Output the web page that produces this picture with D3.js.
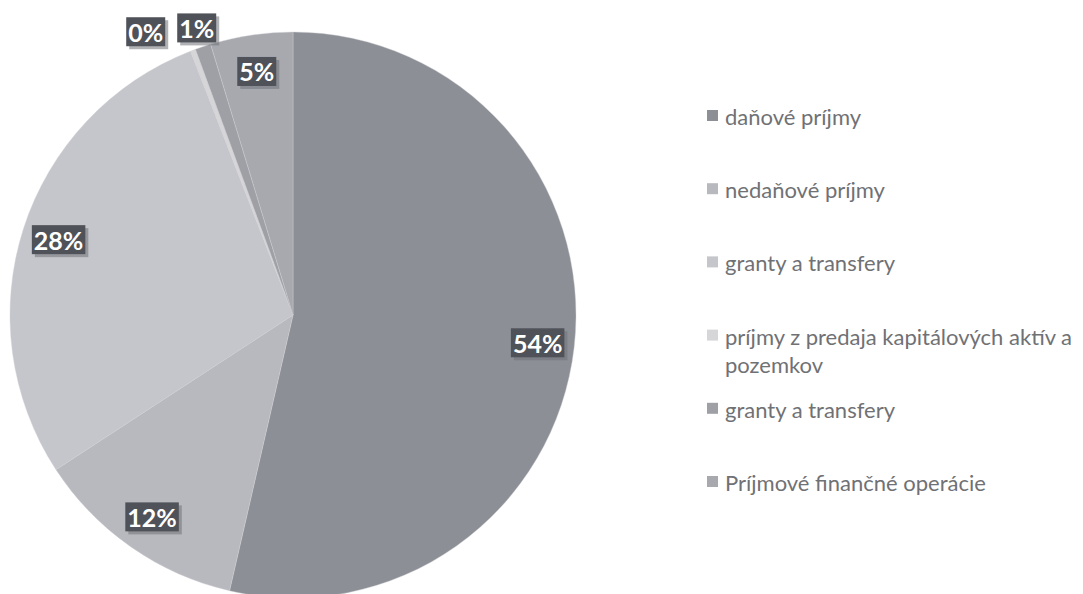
<!DOCTYPE html>
<html>
<head>
<meta charset="utf-8">
<script src="https://cdn.jsdelivr.net/npm/d3@7"></script>
<style>
  html, body { margin: 0; padding: 0; background: #ffffff; }
  svg { display: block; }
</style>
</head>
<body>
<svg id="chart" width="1083" height="594"></svg>
<script>
// ---- data ----
const categories = [
  "daňové príjmy",
  "nedaňové príjmy",
  "granty a transfery",
  "príjmy z predaja kapitálových aktív a pozemkov",
  "granty a transfery",
  "Príjmové finančné operácie"
];
const values = [53.6, 12.2, 28.3, 0.3, 0.9, 4.7];
const colors = ["#8c8f96", "#b8b9bf", "#c5c6cb", "#d6d6d9", "#9ea0a6", "#a7a9af"];

// ---- layout ----
const svg = d3.select("#chart");
const W = 1083, H = 594;
svg.append("rect").attr("width", W).attr("height", H).attr("fill", "#ffffff");

const cx = 293, cy = 315, R = 283;
const total = d3.sum(values);
const data = values.map((v, i) => ({ v, i, name: categories[i], color: colors[i] }));

const pie = d3.pie().value(d => d.v).sort(null).startAngle(0).endAngle(2 * Math.PI);
const arcs = pie(data);
const arc = d3.arc().innerRadius(0).outerRadius(R);
const inLabelArc = d3.arc().innerRadius(R * 0.87).outerRadius(R * 0.87);
const outLabelArc = d3.arc().innerRadius(R * 1.07).outerRadius(R * 1.07);

const g = svg.append("g").attr("transform", `translate(${cx},${cy})`);

g.selectAll("path.slice")
  .data(arcs)
  .join("path")
  .attr("class", "slice")
  .attr("d", arc)
  .attr("fill", d => d.data.color)
  .attr("stroke", "#cfd0d4")
  .attr("stroke-width", 0.4);

// ---- data labels ----
const fmt = d => Math.round(d.data.v / total * 100) + "%";
const labelFont = "Lato, 'Open Sans', sans-serif";
const labelSize = 25;

const labels = arcs.map(d => {
  const small = (d.data.v / total) < 0.02;
  const [x, y] = (small ? outLabelArc : inLabelArc).centroid(d);
  return { d, x, y, text: fmt(d), small };
});

const lg = g.append("g").attr("class", "labels");
const nodes = lg.selectAll("g.lbl").data(labels).join("g").attr("class", "lbl");
nodes.append("rect").attr("class", "shadow");
nodes.append("rect").attr("class", "box");
nodes.append("text")
  .attr("text-anchor", "middle")
  .attr("dominant-baseline", "central")
  .attr("font-family", labelFont)
  .attr("font-weight", "bold")
  .attr("font-size", labelSize)
  .attr("fill", "#ffffff")
  .text(d => d.text);

nodes.each(function (d) {
  d.w = d3.select(this).select("text").node().getComputedTextLength() + 4;
  d.h = 29;
});

// resolve overlap of outside labels: shift earlier ones left
const outs = labels.filter(l => l.small).sort((a, b) => b.d.startAngle - a.d.startAngle);
for (let k = 1; k < outs.length; k++) {
  const right = outs[k - 1], cur = outs[k];
  const maxRight = right.x - right.w / 2 - 12;
  if (cur.x + cur.w / 2 > maxRight) cur.x = maxRight - cur.w / 2;
}

nodes.attr("transform", d => `translate(${d.x},${d.y})`);
nodes.select("rect.shadow")
  .attr("x", d => -d.w / 2 + 3).attr("y", d => -d.h / 2 + 3)
  .attr("width", d => d.w).attr("height", d => d.h)
  .attr("fill", "#6f7278").attr("opacity", 0.55);
nodes.select("rect.box")
  .attr("x", d => -d.w / 2).attr("y", d => -d.h / 2)
  .attr("width", d => d.w).attr("height", d => d.h)
  .attr("fill", "#4f5258");

// ---- legend ----
const legendX = 707, legendTextX = 725;
const legendY = d3.scalePoint().domain(d3.range(categories.length)).range([116, 482]);
const legendFont = "Lato, 'Open Sans', sans-serif";
const legendSize = 22;
const maxTextW = 360;

const leg = svg.append("g").attr("class", "legend");
const items = leg.selectAll("g.item").data(data).join("g").attr("class", "item")
  .attr("transform", d => `translate(0,${legendY(d.i)})`);

items.append("rect")
  .attr("x", legendX).attr("y", -6)
  .attr("width", 11).attr("height", 11)
  .attr("fill", d => d.color);

items.each(function (d) {
  const t = d3.select(this).append("text")
    .attr("x", legendTextX)
    .attr("font-family", legendFont)
    .attr("font-size", legendSize)
    .attr("fill", "#707174")
    .attr("dominant-baseline", "central");
  const words = d.name.split(" ");
  let line = [];
  let tspan = t.append("tspan").attr("x", legendTextX).attr("dy", 0);
  words.forEach(w => {
    line.push(w);
    tspan.text(line.join(" "));
    if (tspan.node().getComputedTextLength() > maxTextW && line.length > 1) {
      line.pop();
      tspan.text(line.join(" "));
      line = [w];
      tspan = t.append("tspan").attr("x", legendTextX).attr("dy", 28).text(w);
    }
  });
});
</script>
</body>
</html>
